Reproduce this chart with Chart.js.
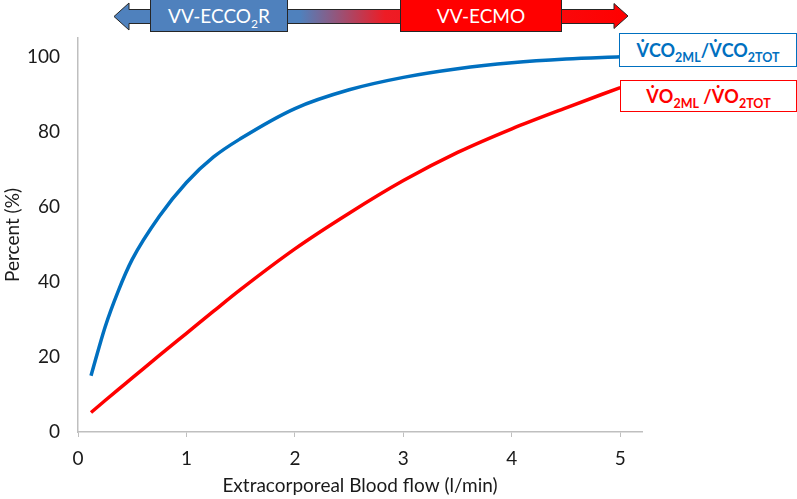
<!DOCTYPE html>
<html lang="en">
<head>
<meta charset="UTF-8" />
<title>Extracorporeal blood flow vs gas transfer</title>
<style>
  body { margin: 0; background: #fff; font-family: Lato, 'Open Sans', sans-serif; }
  .wrap { position: relative; width: 797px; height: 499px; }
  canvas { position: absolute; left: 0; top: 0; }
  .tag {
    position: absolute;
    box-sizing: border-box;
    display: flex;
    align-items: center;
    justify-content: center;
    white-space: nowrap;
  }
  .tag sub { font-size: 12px; vertical-align: -5px; line-height: 0; }
  .mode { color: #fff; font-size: 19px; border: 1px solid #262626; top: -1px; height: 33px; }
  .ecco2r { left: 150px; width: 138px; background: #4f81bd; }
  .ecmo { left: 400px; width: 162px; background: #ff0000; }
  .callout { background: #fff; font-weight: bold; font-size: 18px; }
  .callout sub { font-size: 12.5px; }
  .co2 { left: 619px; top: 33px; width: 178px; height: 34px; border: 1.5px solid #0070c0; color: #0070c0; }
  .o2 { left: 620px; top: 80px; width: 177px; height: 32px; border: 1.5px solid #ff0000; color: #ff0000; }
</style>
</head>
<body>
<div class="wrap">
  <canvas id="chart" width="797" height="499"></canvas>
  <div class="tag mode ecco2r"><span>VV-ECCO<sub>2</sub>R</span></div>
  <div class="tag mode ecmo"><span>VV-ECMO</span></div>
  <div class="tag callout co2"><span>V&#x307;CO<sub>2ML</sub>/V&#x307;CO<sub>2TOT</sub></span></div>
  <div class="tag callout o2"><span>V&#x307;O<sub>2ML</sub>&nbsp;/V&#x307;O<sub>2TOT</sub></span></div>
</div>

<script src="https://cdn.jsdelivr.net/npm/chart.js"></script>
<script>
  // blood flow (l/min) and % of total transfer done by the membrane lung
  const flow = [0.12, 0.25, 0.37, 0.5, 0.75, 1, 1.25, 1.5, 2, 2.5, 3, 3.5, 4, 4.5, 5];
  const vco2Pct = [15, 28, 37.5, 46, 57.5, 66.5, 73.3, 78.2, 86.2, 91.2, 94.5, 96.8, 98.4, 99.4, 100];
  const vo2Pct = [5.2, 8.4, 11.3, 14.4, 20.4, 26.3, 32.2, 38, 48.8, 58.3, 67, 74.5, 80.8, 86.4, 91.8];
  const xTicks = [0, 1, 2, 3, 4, 5];
  const yTicks = [0, 20, 40, 60, 80, 100];

  const toPoints = (ys) => flow.map((x, i) => ({ x: x, y: ys[i] }));

  // double arrow behind the VV-ECCO2R / VV-ECMO boxes
  const modeArrow = {
    id: "modeArrow",
    afterDraw(chart) {
      const ctx = chart.ctx;
      ctx.save();
      const g = ctx.createLinearGradient(114, 0, 628, 0);
      g.addColorStop(0, "#4f81bd");
      g.addColorStop((300 - 114) / 514, "#4f81bd");
      g.addColorStop((385 - 114) / 514, "#ee1c25");
      g.addColorStop(1, "#ff0000");
      ctx.beginPath();
      ctx.moveTo(114, 16.5);
      ctx.lineTo(129, 3);
      ctx.lineTo(129, 9.5);
      ctx.lineTo(614, 9.5);
      ctx.lineTo(614, 3.5);
      ctx.lineTo(628, 16);
      ctx.lineTo(614, 28.5);
      ctx.lineTo(614, 23.5);
      ctx.lineTo(129, 23.5);
      ctx.lineTo(129, 30);
      ctx.closePath();
      ctx.fillStyle = g;
      ctx.fill();
      ctx.strokeStyle = "#262626";
      ctx.lineWidth = 1;
      ctx.stroke();
      ctx.restore();
    }
  };

  const axisGrey = "#bfbfbf";
  const txt = "#1a1a1a";
  const font = { family: "Lato", size: 19 };

  new Chart(document.getElementById("chart"), {
    type: "scatter",
    data: {
      datasets: [
        {
          label: "VCO2ML/VCO2TOT",
          data: toPoints(vco2Pct),
          showLine: true,
          borderColor: "#0070c0",
          borderWidth: 3.5,
          pointRadius: 0,
          cubicInterpolationMode: "monotone",
        },
        {
          label: "VO2ML/VO2TOT",
          data: toPoints(vo2Pct),
          showLine: true,
          borderColor: "#ff0000",
          borderWidth: 3.5,
          pointRadius: 0,
          cubicInterpolationMode: "monotone",
        },
      ],
    },
    options: {
      responsive: false,
      animation: false,
      layout: { padding: { top: 38, right: 155, left: 0, bottom: 0 } },
      plugins: { legend: { display: false }, tooltip: { enabled: false } },
      scales: {
        x: {
          type: "linear",
          min: 0,
          max: 5.2,
          afterBuildTicks: (s) => { s.ticks = xTicks.map((v) => ({ value: v })); },
          afterFit: (s) => { s.height = 67; },
          grid: { drawOnChartArea: false, drawTicks: true, tickLength: 5, color: axisGrey },
          border: { color: axisGrey, width: 1.5 },
          ticks: { color: txt, padding: 10, font: font },
          title: {
            display: true,
            text: "Extracorporeal Blood flow (l/min)",
            color: txt,
            font: font,
            padding: { top: 0, bottom: 2 },
          },
        },
        y: {
          min: 0,
          max: 105,
          afterBuildTicks: (s) => { s.ticks = yTicks.map((v) => ({ value: v })); },
          afterFit: (s) => { s.width = 78; },
          grid: { drawOnChartArea: false, drawTicks: false },
          border: { color: axisGrey, width: 1.5 },
          ticks: { color: txt, padding: 18, font: font },
          title: {
            display: true,
            text: "Percent (%)",
            color: txt,
            font: font,
            padding: { top: 1, bottom: 0 },
          },
        },
      },
    },
    plugins: [modeArrow],
  });
</script>
</body>
</html>
